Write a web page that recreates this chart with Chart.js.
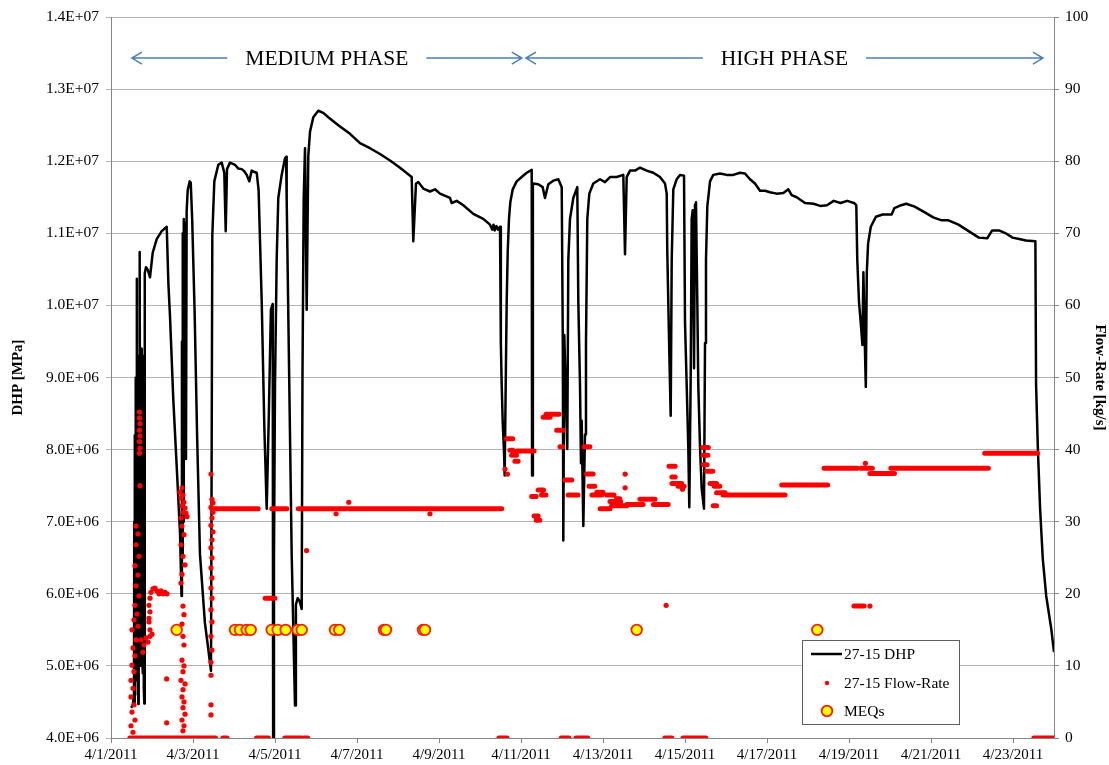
<!DOCTYPE html>
<html>
<head>
<meta charset="utf-8">
<title>27-15 DHP and Flow-Rate</title>
<script src="https://cdn.jsdelivr.net/npm/chart.js@4.4.1/dist/chart.umd.min.js"></script>
<style>
  html, body { margin: 0; padding: 0; background: #ffffff; }
  #wrap { position: relative; width: 1109px; height: 765px; }
</style>
</head>
<body>
<div id="wrap"><canvas id="chart"></canvas></div>
<script>
// x values are days elapsed since 4/1/2011 00:00
const tickDays = [0, 2, 4, 6, 8, 10, 12, 14, 16, 18, 20, 22];
const tickLabels = ['4/1/2011', '4/3/2011', '4/5/2011', '4/7/2011', '4/9/2011', '4/11/2011',
                    '4/13/2011', '4/15/2011', '4/17/2011', '4/19/2011', '4/21/2011', '4/23/2011'];

// downhole pressure: [day, pressure in units of 1e6]
const dhpSeries = [
  [0.488, 4.42], [0.530, 4.45], [0.560, 4.60], [0.568, 7.00], [0.576, 4.50], [0.585, 8.20],
  [0.595, 4.80], [0.603, 9.00], [0.610, 5.20], [0.627, 10.37], [0.634, 5.00], [0.642, 9.20],
  [0.650, 4.60], [0.658, 8.90], [0.666, 4.47], [0.675, 9.30], [0.683, 5.00], [0.692, 9.00],
  [0.700, 5.30], [0.707, 10.74], [0.713, 5.40], [0.722, 9.20], [0.730, 5.20], [0.738, 9.40],
  [0.746, 5.00], [0.755, 9.10], [0.763, 5.10], [0.771, 9.30], [0.780, 4.90], [0.790, 8.80],
  [0.800, 4.70], [0.812, 4.48], [0.818, 7.50], [0.829, 10.45], [0.854, 10.53], [0.900, 10.49],
  [0.951, 10.39], [1.017, 10.73], [1.115, 10.92], [1.237, 11.03], [1.359, 11.09],
  [1.400, 10.30], [1.439, 9.85], [1.520, 8.69], [1.602, 7.77], [1.683, 6.85], [1.720, 5.97],
  [1.730, 9.50], [1.740, 6.50], [1.750, 11.00], [1.760, 7.00], [1.770, 11.20], [1.780, 9.00],
  [1.790, 11.15], [1.800, 10.60], [1.815, 11.10], [1.829, 7.87], [1.845, 11.30], [1.871, 11.60],
  [1.920, 11.72], [1.945, 11.70],
  [1.980, 11.20], [2.040, 9.90], [2.100, 8.20], [2.170, 6.55], [2.290, 5.60], [2.380, 5.20], [2.439, 4.93],
  [2.471, 10.97], [2.520, 11.72], [2.617, 11.95], [2.700, 11.98], [2.763, 11.84], [2.798, 11.03],
  [2.829, 11.89], [2.902, 11.98], [3.024, 11.95], [3.100, 11.90], [3.188, 11.89], [3.250, 11.86],
  [3.310, 11.81], [3.373, 11.72], [3.432, 11.87], [3.500, 11.85], [3.554, 11.84],
  [3.600, 11.60], [3.676, 10.05], [3.739, 8.33], [3.798, 7.18], [3.850, 8.50], [3.900, 9.94],
  [3.944, 10.02], [3.955, 4.00], [3.975, 6.50], [4.000, 8.90], [4.041, 10.63], [4.080, 11.49],
  [4.163, 11.81], [4.244, 12.04], [4.270, 12.06],
  [4.285, 11.47], [4.407, 6.55], [4.488, 4.45], [4.510, 5.85], [4.554, 5.94], [4.600, 5.90],
  [4.651, 5.79], [4.670, 9.00], [4.700, 11.49], [4.732, 12.18], [4.773, 9.94], [4.812, 12.07],
  [4.854, 12.41], [4.934, 12.61], [5.056, 12.70], [5.178, 12.67], [5.300, 12.61], [5.544, 12.50],
  [5.829, 12.38], [6.073, 12.25], [6.317, 12.18], [6.561, 12.10], [6.805, 12.01], [7.049, 11.91],
  [7.334, 11.78], [7.373, 10.89], [7.439, 11.69], [7.495, 11.71], [7.617, 11.62], [7.780, 11.58],
  [7.902, 11.61], [8.024, 11.55], [8.268, 11.49], [8.310, 11.42], [8.432, 11.45], [8.593, 11.39],
  [8.837, 11.27], [9.080, 11.20], [9.244, 11.12], [9.300, 11.05], [9.330, 11.12], [9.360, 11.04],
  [9.400, 11.10], [9.440, 11.05], [9.488, 11.09],
  [9.505, 11.03], [9.512, 9.48], [9.529, 8.90], [9.554, 8.38], [9.585, 7.98], [9.602, 7.64],
  [9.627, 8.90], [9.651, 10.05], [9.676, 10.74], [9.707, 11.20], [9.739, 11.43], [9.798, 11.61],
  [9.895, 11.72], [10.017, 11.78], [10.139, 11.84], [10.261, 11.88], [10.270, 7.64], [10.290, 11.69],
  [10.422, 11.68], [10.529, 11.64], [10.585, 11.49], [10.666, 11.68], [10.788, 11.73], [10.910, 11.75],
  [10.993, 11.64],
  [11.020, 9.48], [11.032, 6.74], [11.056, 9.59], [11.129, 8.01], [11.154, 10.63], [11.195, 11.20],
  [11.276, 11.49], [11.373, 11.64], [11.398, 10.05], [11.439, 8.90], [11.463, 7.81], [11.480, 8.40],
  [11.520, 6.94], [11.561, 8.21], [11.585, 9.48], [11.617, 11.20], [11.666, 11.55], [11.763, 11.69],
  [11.927, 11.75], [12.049, 11.71], [12.171, 11.78], [12.334, 11.78], [12.495, 11.81], [12.537, 10.71],
  [12.578, 11.78], [12.659, 11.87], [12.780, 11.87], [12.902, 11.91], [13.066, 11.87], [13.227, 11.84],
  [13.390, 11.78], [13.512, 11.69], [13.554, 11.55], [13.568, 10.74], [13.602, 9.77], [13.634, 8.90],
  [13.651, 8.47], [13.676, 10.63], [13.715, 11.61], [13.798, 11.75], [13.878, 11.81], [13.976, 11.80],
  [14.000, 9.77], [14.041, 8.90], [14.080, 8.04], [14.105, 7.20], [14.139, 9.02], [14.163, 11.20],
  [14.188, 11.32], [14.220, 9.13], [14.244, 11.40], [14.268, 11.43], [14.300, 10.05], [14.324, 8.90],
  [14.366, 8.04], [14.407, 7.46], [14.463, 7.18], [14.488, 9.48], [14.512, 10.63], [14.544, 11.37],
  [14.610, 11.72], [14.690, 11.81], [14.854, 11.83], [15.017, 11.81], [15.178, 11.81], [15.341, 11.84],
  [15.463, 11.83], [15.585, 11.75], [15.707, 11.69], [15.829, 11.59], [15.951, 11.59], [16.073, 11.57],
  [16.237, 11.55], [16.398, 11.56], [16.520, 11.61], [16.602, 11.53], [16.724, 11.50], [16.927, 11.42],
  [17.134, 11.41], [17.298, 11.38], [17.463, 11.39], [17.627, 11.45], [17.793, 11.42], [17.956, 11.45],
  [18.122, 11.42], [18.178, 11.39], [18.202, 10.63], [18.244, 10.05], [18.285, 9.77], [18.327, 9.45],
  [18.351, 10.46], [18.385, 9.48], [18.410, 8.87], [18.434, 10.46], [18.466, 10.86], [18.532, 11.09],
  [18.656, 11.23], [18.820, 11.26], [19.041, 11.26], [19.107, 11.35], [19.273, 11.39], [19.395, 11.41],
  [19.602, 11.37], [19.849, 11.29], [20.054, 11.22], [20.261, 11.18], [20.424, 11.18], [20.671, 11.12],
  [20.917, 11.03], [21.166, 10.94], [21.371, 10.93], [21.493, 11.04], [21.659, 11.04], [21.822, 11.00],
  [21.988, 10.94], [22.151, 10.92], [22.317, 10.90], [22.546, 10.89], [22.563, 8.90], [22.605, 8.04],
  [22.661, 7.18], [22.727, 6.48], [22.810, 5.97], [22.934, 5.51], [23.000, 5.19]
];

// flow-rate held at a constant set point: [first day, last day, kg/s]
const flowRuns = [
  [0.46, 2.55, 0], [2.73, 2.83, 0], [3.55, 3.84, 0], [4.24, 4.65, 0], [4.71, 4.80, 0],
  [9.46, 9.66, 0], [10.98, 11.17, 0], [11.34, 11.63, 0], [13.51, 13.68, 0], [13.95, 14.51, 0],
  [22.51, 22.98, 0],
  [2.46, 3.59, 31.8], [3.92, 4.29, 31.8], [4.57, 9.53, 31.8], [3.76, 4.00, 19.4],
  [9.65, 9.80, 41.5], [9.73, 9.80, 39.9], [9.77, 9.89, 39.2], [9.85, 9.93, 38.4], [9.90, 10.32, 39.8],
  [10.26, 10.37, 33.5], [10.32, 10.42, 30.8], [10.37, 10.46, 30.2], [10.42, 10.55, 34.4],
  [10.50, 10.61, 33.7], [10.54, 10.71, 44.5], [10.61, 10.93, 44.9], [10.87, 11.02, 42.7],
  [10.95, 11.02, 40.4], [11.07, 11.24, 35.8], [11.15, 11.39, 33.7], [11.54, 11.68, 40.4],
  [11.60, 11.76, 36.6], [11.66, 11.80, 34.9], [11.73, 11.97, 33.7], [11.85, 12.00, 34.1],
  [11.93, 12.17, 31.8], [12.09, 12.27, 33.7], [12.17, 12.43, 32.8], [12.21, 12.46, 32.2],
  [12.33, 12.41, 33.2], [12.39, 12.58, 32.2], [12.58, 12.98, 32.4], [12.90, 13.27, 33.1],
  [13.23, 13.59, 32.4], [13.61, 13.76, 37.7], [13.68, 13.76, 36.2], [13.68, 13.92, 35.3],
  [13.83, 13.98, 34.9], [14.43, 14.57, 40.3], [14.44, 14.56, 39.2], [14.45, 14.54, 37.9],
  [14.53, 14.68, 37.0], [14.61, 14.77, 35.3], [14.71, 14.85, 34.9], [14.69, 14.77, 32.2],
  [14.77, 14.98, 34.0], [14.93, 16.44, 33.7], [16.36, 17.48, 35.1], [17.39, 18.20, 37.4],
  [18.29, 18.57, 37.4], [18.51, 19.11, 36.7], [19.02, 21.40, 37.4], [21.31, 22.60, 39.5],
  [18.12, 18.37, 18.3]
];

// individual flow-rate readings: [day, kg/s]
const flowDots = [
  [0.695, 45.2], [0.695, 44.4], [0.707, 43.6], [0.695, 42.7], [0.707, 41.9], [0.695, 41.1],
  [0.707, 40.2], [0.695, 39.5], [0.707, 35.0],
  [0.610, 29.4], [0.659, 28.3], [0.610, 26.8], [0.683, 25.2], [0.585, 23.9], [0.659, 22.6],
  [0.610, 21.1], [0.683, 19.7], [0.585, 18.4], [0.634, 17.2], [0.561, 16.4], [0.659, 15.5],
  [0.512, 15.0], [0.610, 13.6], [0.537, 12.5], [0.585, 11.4], [0.512, 10.1], [0.561, 9.2],
  [0.488, 8.0], [0.537, 6.9], [0.488, 5.7], [0.561, 4.6], [0.512, 3.6], [0.585, 2.5],
  [0.488, 1.7], [0.537, 0.8],
  [0.732, 13.6], [0.805, 12.9], [0.854, 13.9], [0.902, 13.3], [0.951, 14.1], [1.000, 14.4], [0.780, 11.9],
  [0.927, 18.4], [0.951, 19.4], [0.976, 20.2], [1.024, 20.7], [1.073, 20.8], [1.122, 20.4],
  [1.171, 20.0], [1.220, 20.4], [1.268, 20.0], [1.317, 20.2], [1.366, 20.0], [0.951, 17.5],
  [0.927, 16.1], [0.951, 15.0], [0.927, 16.6], [1.358, 8.2], [1.358, 2.1],
  [1.683, 34.1], [1.732, 34.7], [1.707, 33.3], [1.756, 33.7], [1.780, 32.7], [1.732, 32.2],
  [1.805, 31.9], [1.829, 31.2], [1.756, 31.3], [1.854, 30.7], [1.707, 30.5],
  [1.732, 29.4], [1.780, 28.2], [1.707, 26.8], [1.756, 25.2], [1.805, 24.0], [1.732, 22.7], [1.707, 21.5],
  [1.756, 18.3], [1.780, 17.1], [1.732, 15.8], [1.756, 14.1], [1.780, 12.9], [1.732, 10.8],
  [1.780, 10.0], [1.756, 9.2], [1.707, 8.0], [1.805, 7.5], [1.756, 6.7], [1.732, 5.7],
  [1.780, 5.0], [1.756, 4.2], [1.805, 3.3], [1.732, 2.5], [1.780, 1.7], [1.756, 1.0],
  [2.439, 36.6], [2.463, 33.1], [2.488, 32.6], [2.439, 32.0], [2.488, 31.3], [2.463, 30.5],
  [2.439, 29.5], [2.488, 28.6], [2.463, 27.5], [2.439, 26.4], [2.463, 25.0], [2.439, 23.6],
  [2.463, 22.2], [2.439, 20.8], [2.463, 19.4], [2.439, 17.8], [2.463, 16.1], [2.439, 14.1],
  [2.463, 12.2], [2.439, 10.5], [2.439, 8.7], [2.439, 4.6], [2.439, 3.2],
  [4.77, 26.0], [5.49, 31.1], [5.80, 32.7], [7.78, 31.1], [9.61, 37.3], [9.67, 36.6],
  [12.54, 36.6], [12.54, 34.7], [13.94, 34.5], [13.54, 18.4], [18.40, 38.1], [18.51, 18.3]
];

// micro-earthquake event times, marked at a fixed pressure level
const meqDays = [1.602, 3.024, 3.146, 3.310, 3.407, 3.920, 4.066, 4.261, 4.554, 4.651,
                 5.463, 5.568, 6.659, 6.707, 7.610, 7.659, 12.822, 17.227];
const meqLevel = 5.5e6;

// injection phases shown along the top
const phaseNames = ['MEDIUM PHASE', 'HIGH PHASE'];
const phaseStart = [0.51, 10.12];
const phaseEnd = [10.02, 22.73];
const phaseLevel = 1.343e7;

const SERIF = '"Liberation Serif", "Times New Roman", serif';

const dhpData = dhpSeries.map(([d, v]) => ({ x: d, y: v * 1e6 }));
const runData = [];
flowRuns.forEach(([a, b, q]) => {
  runData.push({ x: a, y: q }, { x: b, y: q }, { x: b, y: null });
});
const dotData = flowDots.map(([d, q]) => ({ x: d, y: q }));
const meqData = meqDays.map(d => ({ x: d, y: meqLevel }));

function sciLabel(v) {
  const [m, e] = Number(v).toExponential(1).split('e');
  const n = parseInt(e, 10);
  return m + 'E' + (n < 0 ? '-' : '+') + String(Math.abs(n)).padStart(2, '0');
}

const phaseArrows = {
  id: 'phaseArrows',
  afterDatasetsDraw(chart) {
    const { ctx, scales: { x, y } } = chart;
    const py = y.getPixelForValue(phaseLevel);
    ctx.save();
    ctx.font = '21.5px ' + SERIF;
    ctx.textAlign = 'center';
    ctx.textBaseline = 'middle';
    phaseNames.forEach((name, i) => {
      const x0 = x.getPixelForValue(phaseStart[i]);
      const x1 = x.getPixelForValue(phaseEnd[i]);
      const xm = (x0 + x1) / 2;
      const half = ctx.measureText(name).width / 2;
      const gap = 18;
      ctx.fillStyle = '#000000';
      ctx.fillText(name, xm, py + 1);
      ctx.strokeStyle = '#4a7ebb';
      ctx.lineWidth = 1.5;
      ctx.beginPath();
      ctx.moveTo(x0, py); ctx.lineTo(xm - half - gap, py);
      ctx.moveTo(xm + half + gap, py); ctx.lineTo(x1, py);
      ctx.moveTo(x0 + 10, py - 6); ctx.lineTo(x0, py); ctx.lineTo(x0 + 10, py + 6);
      ctx.moveTo(x1 - 10, py - 6); ctx.lineTo(x1, py); ctx.lineTo(x1 - 10, py + 6);
      ctx.stroke();
    });
    ctx.restore();
  }
};

const legendBox = {
  id: 'legendBox',
  afterDraw(chart) {
    const { ctx, chartArea } = chart;
    const w = 157, h = 84;
    const x0 = chartArea.right - 95 - w;
    const y0 = chartArea.bottom - 14 - h;
    const ds = chart.data.datasets;
    const dhp = ds.find(d => d.id === 'dhp');
    const dots = ds.find(d => d.id === 'dots');
    const meq = ds.find(d => d.id === 'meq');
    ctx.save();
    ctx.fillStyle = '#ffffff';
    ctx.fillRect(x0, y0, w, h);
    ctx.strokeStyle = '#5f5f5f';
    ctx.lineWidth = 1;
    ctx.strokeRect(x0 + 0.5, y0 + 0.5, w, h);
    const sx = x0 + 25, tx = x0 + 42;
    const rows = [y0 + 14, y0 + 43, y0 + 71];
    ctx.strokeStyle = dhp.borderColor;
    ctx.lineWidth = dhp.borderWidth;
    ctx.beginPath(); ctx.moveTo(x0 + 9, rows[0]); ctx.lineTo(x0 + 40, rows[0]); ctx.stroke();
    ctx.fillStyle = dots.pointBackgroundColor;
    ctx.beginPath(); ctx.arc(sx, rows[1], 2.2, 0, Math.PI * 2); ctx.fill();
    ctx.fillStyle = meq.pointBackgroundColor;
    ctx.strokeStyle = meq.pointBorderColor;
    ctx.lineWidth = meq.pointBorderWidth;
    ctx.beginPath(); ctx.arc(sx, rows[2], meq.pointRadius, 0, Math.PI * 2); ctx.fill(); ctx.stroke();
    ctx.fillStyle = '#000000';
    ctx.font = '15.5px ' + SERIF;
    ctx.textAlign = 'left';
    ctx.textBaseline = 'middle';
    ctx.fillText(dhp.label, tx, rows[0] + 1);
    ctx.fillText(dots.label, tx, rows[1] + 1);
    ctx.fillText(meq.label, tx, rows[2] + 1);
    ctx.restore();
  }
};

new Chart(document.getElementById('chart'), {
  type: 'scatter',
  data: {
    datasets: [
      { id: 'meq', label: 'MEQs', data: meqData, yAxisID: 'y', order: 0,
        pointRadius: 5.3, pointBackgroundColor: '#ffff00', pointBorderColor: '#ff1a00', pointBorderWidth: 1.8 },
      { id: 'dots', label: '27-15 Flow-Rate', data: dotData, yAxisID: 'y1', order: 1,
        pointRadius: 2.6, pointBackgroundColor: '#ff0000', pointBorderWidth: 0 },
      { id: 'runs', label: '27-15 Flow-Rate', data: runData, yAxisID: 'y1', order: 1,
        showLine: true, spanGaps: false, borderColor: '#ff0000', borderWidth: 5, borderCapStyle: 'round',
        pointRadius: 0 },
      { id: 'dhp', label: '27-15 DHP', data: dhpData, yAxisID: 'y', order: 2,
        showLine: true, borderColor: '#000000', borderWidth: 2.5, borderJoinStyle: 'round',
        pointRadius: 0, tension: 0 }
    ]
  },
  options: {
    responsive: true,
    maintainAspectRatio: false,
    animation: false,
    events: [],
    layout: { padding: { top: 17, left: 0, right: 0, bottom: 0 } },
    plugins: { legend: { display: false }, tooltip: { enabled: false } },
    scales: {
      x: {
        type: 'linear', position: 'bottom', min: 0, max: 23,
        afterBuildTicks: s => { s.ticks = tickDays.map(v => ({ value: v })); },
        afterFit: s => { s.height = 27; },
        grid: { drawOnChartArea: false, color: '#868686', tickLength: 5 },
        border: { color: '#868686', width: 1 },
        ticks: { color: '#000000', font: { family: SERIF, size: 15 }, padding: 3,
                 maxRotation: 0, minRotation: 0, autoSkip: false,
                 callback: v => { const i = tickDays.indexOf(v); return i >= 0 ? tickLabels[i] : ''; } }
      },
      y: {
        type: 'linear', position: 'left', min: 4e6, max: 1.4e7,
        afterFit: s => { s.width = 111; },
        grid: { color: '#b3b3b3', tickLength: 5 },
        border: { color: '#868686', width: 1 },
        ticks: { stepSize: 1e6, color: '#000000', font: { family: SERIF, size: 15.5 }, padding: 7,
                 callback: v => sciLabel(v) },
        title: { display: true, text: 'DHP [MPa]', color: '#000000',
                 font: { family: SERIF, size: 15, weight: 'bold' }, padding: { top: 9, bottom: 0 } }
      },
      y1: {
        type: 'linear', position: 'right', min: 0, max: 100,
        afterFit: s => { s.width = 55; },
        grid: { drawOnChartArea: false, color: '#868686', tickLength: 5 },
        border: { color: '#868686', width: 1 },
        ticks: { stepSize: 10, color: '#000000', font: { family: SERIF, size: 15.5 }, padding: 6 },
        title: { display: true, text: 'Flow-Rate [kg/s]', color: '#000000',
                 font: { family: SERIF, size: 15, weight: 'bold' }, padding: { top: 0, bottom: 0 } }
      }
    }
  },
  plugins: [phaseArrows, legendBox]
});
</script>
</body>
</html>
